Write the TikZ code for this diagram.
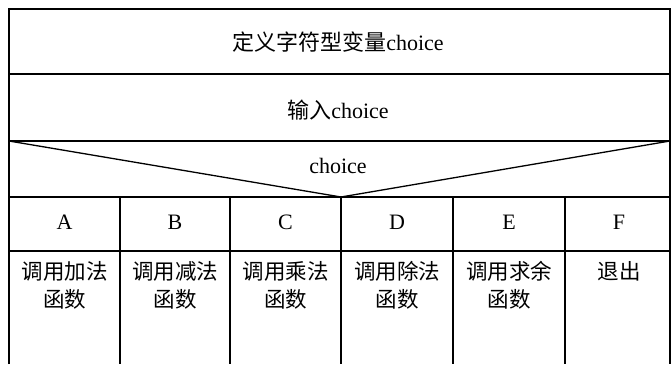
\documentclass[tikz,border=0pt]{standalone}
\usepackage{fontspec}
\setmainfont{Liberation Serif}
\newfontfamily\cjk{Noto Sans CJK SC}
\begin{document}
\begin{tikzpicture}[x=1pt,y=-1pt,
  ln/.style={line width=1.3pt,black},
  txt/.style={inner sep=0pt,font=\fontsize{22}{28}\selectfont,align=center},
  cjktxt/.style={inner sep=0pt,font=\fontsize{21.5}{28}\selectfont\cjk,align=center,anchor=north}]
\useasboundingbox (0,0) rectangle (671,364);
% outer frame and rows
\coordinate (tl) at (9,9);
\coordinate (tr) at (670,9);
\coordinate (bl) at (9,364);
\coordinate (br) at (670,364);
\draw[ln] (bl) -- (tl) -- (tr) -- (br);
\coordinate (r1l) at (9,74);   \coordinate (r1r) at (670,74);
\coordinate (r2l) at (9,141);  \coordinate (r2r) at (670,141);
\coordinate (r3l) at (9,197);  \coordinate (r3r) at (670,197);
\coordinate (r4l) at (9,251);  \coordinate (r4r) at (670,251);
\coordinate (apex) at (341,197);
\draw[ln] (r1l) -- (r1r);
\draw[ln] (r2l) -- (r2r);
\draw[ln] (r3l) -- (r3r);
\draw[ln] (r4l) -- (r4r);
\draw[ln] (r2l) -- (apex) -- (r2r);
% column dividers
\foreach \x/\n in {120/a,230/b,341/c,453/d,565/e}{
  \coordinate (ct\n) at (\x,197);
  \coordinate (cb\n) at (\x,364);
  \draw[ln] (ct\n) -- (cb\n);
}
% texts
\node[txt] (t1) at (338,42) {{\cjk 定义字符型变量}choice};
\node[txt] (t2) at (338,110) {{\cjk 输入}choice};
\node[txt] (t3) at (338,166) {choice};
\node[txt] (ca) at (64.5,222) {A};
\node[txt] (cbb) at (175,222) {B};
\node[txt] (cc) at (285.5,222) {C};
\node[txt] (cd) at (397,222) {D};
\node[txt] (ce) at (509,222) {E};
\node[txt] (cf) at (619,222) {F};
\node[cjktxt] (fa) at (64.5,261) {调用加法\\函数};
\node[cjktxt] (fb) at (175,261) {调用减法\\函数};
\node[cjktxt] (fc) at (285.5,261) {调用乘法\\函数};
\node[cjktxt] (fd) at (397,261) {调用除法\\函数};
\node[cjktxt] (fe) at (509,261) {调用求余\\函数};
\node[cjktxt] (ff) at (619,261) {退出};
\end{tikzpicture}
\end{document}
